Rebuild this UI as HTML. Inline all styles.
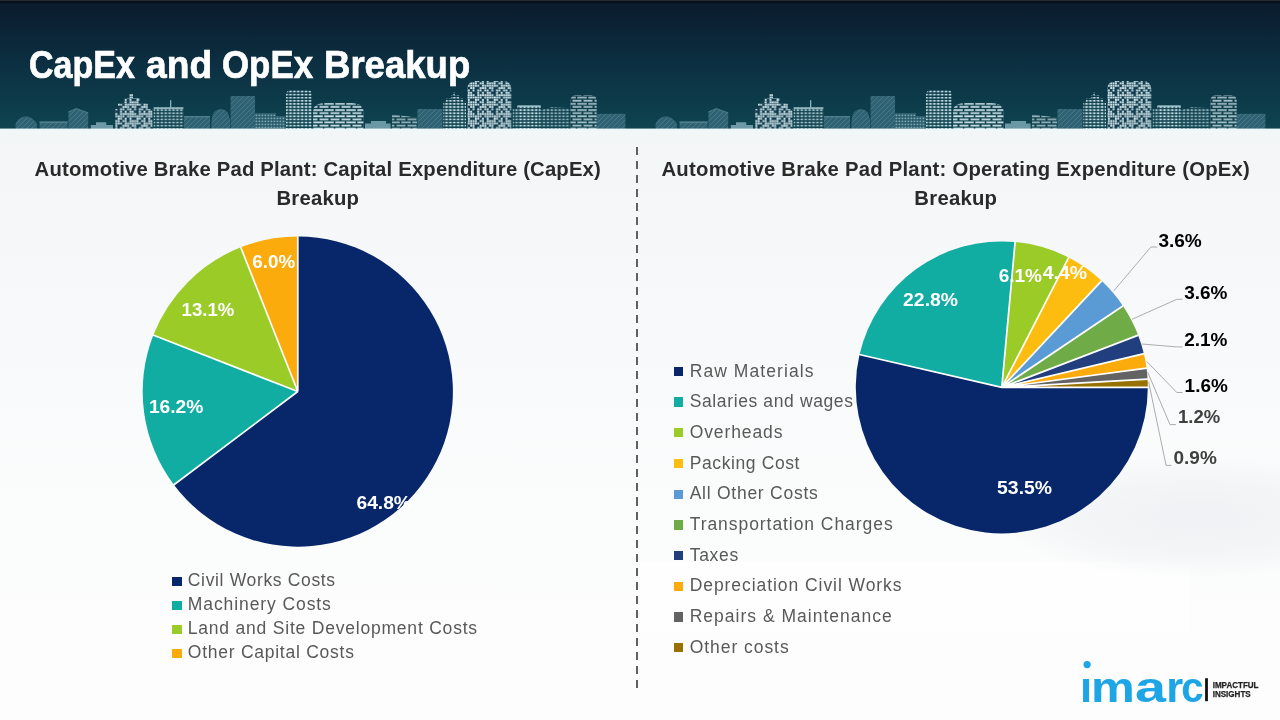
<!DOCTYPE html>
<html lang="en">
<head>
<meta charset="utf-8">
<title>CapEx and OpEx Breakup</title>
<style>
html,body{margin:0;padding:0;}
body{width:1280px;height:720px;overflow:hidden;position:relative;background:#f5f7f8;font-family:"Liberation Sans",Arial,sans-serif;}
.header{position:absolute;left:0;top:0;width:1280px;height:129px;background:linear-gradient(180deg,#0a1a2b 0%,#0b2739 30%,#0c3445 60%,#0e4450 100%);overflow:hidden;}
.header .topline{position:absolute;left:0;top:0;width:100%;height:3px;background:linear-gradient(180deg,#232b34 0,#232b34 1px,#060e19 1px,#07111d 3px);}
.header svg{position:absolute;left:0;top:0;}
.header .edge{position:absolute;left:0;top:128px;width:100%;height:1px;background:rgba(244,247,248,0.42);}
.header h1{position:absolute;left:0;top:0;margin:0;font-size:39px;line-height:44px;font-weight:700;color:#fff;white-space:nowrap;}
.header h1 span{position:absolute;top:42.6px;-webkit-text-stroke:0.7px #fff;display:block;transform-origin:left center;}
.main{position:absolute;left:0;top:128px;width:1280px;height:592px;background:linear-gradient(180deg,#edf8fa 0px,#f3f6f7 5px,#f5f7f8 90px,#f8f9fa 200px,#fbfcfc 400px,#fdfdfd 500px,#fdfdfd 592px) no-repeat 0 1px;}
.charts{position:absolute;left:0;top:0;}
.ctitle{position:absolute;margin:0;font-weight:700;color:#2a2a2a;font-size:20.3px;line-height:29px;text-align:center;white-space:nowrap;}
.ctitle span{display:block;}
.legend{position:absolute;margin:0;padding:0;list-style:none;color:#595959;font-size:17.5px;}
.legend li{position:relative;white-space:nowrap;padding-left:15.6px;}
.legend.lg2 li{padding-left:15.9px;}
.legend li i{position:absolute;left:0;top:50%;margin-top:-3.4px;width:9.5px;height:9.3px;}
.bgp{position:absolute;}
.divider{position:absolute;left:636px;top:19.4px;width:2px;height:540.8px;background:repeating-linear-gradient(180deg,#606060 0,#606060 8px,transparent 8px,transparent 14.02px);}
.logo{position:absolute;left:1083.3px;top:530px;width:190px;height:60px;}
</style>
</head>
<body>
<div class="header">
<div class="topline"></div>
<svg width="1280" height="129" viewBox="0 0 1280 129">
<defs>
<pattern id="pw" width="3.9" height="3.1" patternUnits="userSpaceOnUse"><rect x="0.6" y="0.8" width="2.6" height="1.7" fill="#c4dfe5"/></pattern>
<pattern id="pr" width="18.80" height="18.80" patternUnits="userSpaceOnUse"><rect width="18.80" height="18.80" fill="#113d4f"/><g fill="#d6e9ed"><rect x="0.22" y="0.22" width="1.9" height="1.9"/><rect x="2.57" y="0.22" width="1.9" height="1.9"/><rect x="7.27" y="0.22" width="1.9" height="1.9"/><rect x="9.62" y="0.22" width="1.9" height="1.9"/><rect x="11.97" y="0.22" width="1.9" height="1.9"/><rect x="14.32" y="0.22" width="1.9" height="1.9"/><rect x="16.67" y="0.22" width="1.9" height="1.9"/><rect x="0.22" y="2.57" width="1.9" height="1.9"/><rect x="2.57" y="2.57" width="1.9" height="1.9"/><rect x="4.92" y="2.57" width="1.9" height="1.9"/><rect x="7.27" y="2.57" width="1.9" height="1.9"/><rect x="9.62" y="2.57" width="1.9" height="1.9"/><rect x="14.32" y="2.57" width="1.9" height="1.9"/><rect x="16.67" y="2.57" width="1.9" height="1.9"/><rect x="4.92" y="4.92" width="1.9" height="1.9"/><rect x="7.27" y="4.92" width="1.9" height="1.9"/><rect x="11.97" y="4.92" width="1.9" height="1.9"/><rect x="16.67" y="4.92" width="1.9" height="1.9"/><rect x="0.22" y="7.27" width="1.9" height="1.9"/><rect x="2.57" y="7.27" width="1.9" height="1.9"/><rect x="4.92" y="7.27" width="1.9" height="1.9"/><rect x="9.62" y="7.27" width="1.9" height="1.9"/><rect x="11.97" y="7.27" width="1.9" height="1.9"/><rect x="16.67" y="7.27" width="1.9" height="1.9"/><rect x="0.22" y="9.62" width="1.9" height="1.9"/><rect x="2.57" y="9.62" width="1.9" height="1.9"/><rect x="4.92" y="9.62" width="1.9" height="1.9"/><rect x="7.27" y="9.62" width="1.9" height="1.9"/><rect x="11.97" y="9.62" width="1.9" height="1.9"/><rect x="14.32" y="9.62" width="1.9" height="1.9"/><rect x="16.67" y="9.62" width="1.9" height="1.9"/><rect x="0.22" y="11.97" width="1.9" height="1.9"/><rect x="2.57" y="11.97" width="1.9" height="1.9"/><rect x="9.62" y="11.97" width="1.9" height="1.9"/><rect x="11.97" y="11.97" width="1.9" height="1.9"/><rect x="14.32" y="11.97" width="1.9" height="1.9"/><rect x="2.57" y="14.32" width="1.9" height="1.9"/><rect x="7.27" y="14.32" width="1.9" height="1.9"/><rect x="9.62" y="14.32" width="1.9" height="1.9"/><rect x="14.32" y="14.32" width="1.9" height="1.9"/><rect x="16.67" y="14.32" width="1.9" height="1.9"/><rect x="0.22" y="16.67" width="1.9" height="1.9"/><rect x="7.27" y="16.67" width="1.9" height="1.9"/><rect x="11.97" y="16.67" width="1.9" height="1.9"/><rect x="16.67" y="16.67" width="1.9" height="1.9"/></g></pattern>
<pattern id="ps" width="11" height="6.2" patternUnits="userSpaceOnUse"><rect x="0.5" y="0.7" width="9" height="1.7" fill="#cfe5ea"/><rect x="0" y="3.8" width="3.8" height="1.7" fill="#cfe5ea"/><rect x="5.3" y="3.8" width="5.7" height="1.7" fill="#cfe5ea"/></pattern>
<pattern id="pm" width="3" height="3" patternUnits="userSpaceOnUse"><rect width="3" height="3" fill="#245768"/><rect x="0.5" y="0.6" width="1.8" height="1.6" fill="#7fa8b3"/></pattern>
<pattern id="pd" width="5" height="5" patternUnits="userSpaceOnUse"><rect width="5" height="5" fill="#2f6272"/><path d="M0 5 L5 0 M-1 1 L1 -1 M4 6 L6 4" stroke="#4a7b89" stroke-width="0.9"/></pattern>
<g id="tile">
<path d="M15.6 129 V124 Q18 117.5 25.5 116.3 Q33 117 37 124 V129 Z" fill="url(#pd)"/>
<rect x="39.6" y="121.5" width="28.00" height="7.50" fill="url(#pd)" />
<rect x="39.6" y="121.5" width="28" height="1.6" fill="#4f7f8c"/>
<path d="M68.4 129 V112 L76.2 108.6 L88.2 112.9 V129 Z" fill="url(#pd)"/>
<path d="M68.4 112 L76.2 108.6 L88.2 112.9" fill="none" stroke="#4f7f8c" stroke-width="1"/>
<path d="M90.8 129 V125 H96 V122.2 H106.3 V125 H113 V129 Z" fill="#6d9aa6"/>
<path d="M115 129 V109 H118 V103.6 H124.4 V98 H129.4 V94 H133 V98 H139.4 V103.6 H148 V109 H152.5 V129 Z" fill="url(#pr)"/>
<rect x="153.7" y="107.4" width="29.70" height="21.60" fill="url(#pw)" opacity="0.8"/>
<rect x="153.7" y="107.4" width="29.7" height="1.5" fill="#9fc3cb"/>
<rect x="170" y="100.2" width="1.3" height="7.5" fill="#8fb5be"/>
<rect x="184" y="116" width="26.00" height="13.00" fill="url(#pd)" />
<rect x="184" y="116" width="26" height="1.4" fill="#4f7f8c"/>
<path d="M211.5 129 V120 Q213 109 221 109 Q228.5 109 230 120 V129 Z" fill="url(#pd)"/>
<rect x="230.6" y="96" width="24.40" height="33.00" fill="url(#pd)" />
<rect x="255" y="113" width="21.00" height="16.00" fill="url(#pm)" />
<rect x="276" y="116" width="9.50" height="13.00" fill="url(#pm)" />
<path d="M286 129 V95 Q286 90 291 90 H307 Q312 90 312 95 V129 Z" fill="url(#pw)" />
<path d="M313 129 V111 Q313.5 103 326 103 H351 Q363 103 363.5 111 V129 Z" fill="url(#ps)"/>
<path d="M365 129 V123.5 H371 V121 H386 V123.5 H390.6 V129 Z" fill="#6a98a4"/>
<path d="M392 129 V114.4 L417 117.5 V129 Z" fill="url(#ps)" opacity="0.7"/>
<rect x="417.5" y="109" width="25.00" height="20.00" fill="url(#pd)" />
<path d="M443.2 129 V101.8 H446 V98.4 H451 V95 H453.3 V92 H454.7 V95 H459 V98.4 H463 V101.8 H466 V129 Z" fill="url(#pw)"/>
<path d="M467.2 129 V89.5 Q467.2 81 475.7 81 H502.8 Q511.3 81 511.3 89.5 V129 Z" fill="url(#pr)" />
<rect x="512.8" y="108.7" width="4.20" height="20.30" fill="url(#pw)" opacity="0.8"/>
<rect x="517.4" y="105.4" width="23.20" height="23.60" fill="url(#pw)" />
<rect x="517.4" y="105.4" width="23.2" height="1.4" fill="#a9cbd2"/>
<path d="M541 129 V110 L552 107 L569.5 108.2 V129 Z" fill="url(#pw)" opacity="0.7"/>
<path d="M570.4 129 V101 Q570.4 95 576.4 95 H590.7 Q596.7 95 596.7 101 V129 Z" fill="url(#ps)" opacity="0.8"/>
<rect x="597" y="113.8" width="28.40" height="15.20" fill="url(#pd)" />
</g>
</defs>
<use href="#tile"/>
<use href="#tile" x="640"/>
</svg>
<h1><span style="left:29.3px;transform:scaleX(0.8716)">CapEx</span> <span style="left:145.6px;transform:scaleX(0.9539)">and</span> <span style="left:221.5px;transform:scaleX(0.8937)">OpEx</span> <span style="left:324.2px;transform:scaleX(0.9368)">Breakup</span></h1>
<div class="edge"></div>
</div>
<div class="main">
<div class="bgp" style="left:640px;top:434px;width:550px;height:69px;background:#fefefe"></div>
<div class="bgp" style="left:1000px;top:330px;width:280px;height:120px;background:radial-gradient(ellipse at 70% 50%,rgba(238,241,243,0.9) 0,rgba(238,241,243,0.6) 45%,rgba(238,241,243,0) 72%)"></div>
<div class="divider"></div>
<h2 class="ctitle" style="left:-82.19999999999999px;top:27px;width:800px"><span style="letter-spacing:0.176px">Automotive Brake Pad Plant: Capital Expenditure (CapEx)</span><span style="letter-spacing:0.235px">Breakup</span></h2>
<h2 class="ctitle" style="left:555.8px;top:27px;width:800px"><span style="letter-spacing:0.249px">Automotive Brake Pad Plant: Operating Expenditure (OpEx)</span><span style="letter-spacing:0.249px">Breakup</span></h2>
<svg class="charts" width="1280" height="592" viewBox="0 128 1280 592" font-family="Liberation Sans, Arial, sans-serif">
<g id="pie1">
<path d="M297.80 391.55 L297.80 236.45 A155.1 155.1 0 1 1 173.86 484.79 Z" fill="#08276b"/>
<path d="M297.80 391.55 L173.86 484.79 A155.1 155.1 0 0 1 153.30 335.19 Z" fill="#11aca2"/>
<path d="M297.80 391.55 L153.30 335.19 A155.1 155.1 0 0 1 240.76 247.32 Z" fill="#9acb27"/>
<path d="M297.80 391.55 L240.76 247.32 A155.1 155.1 0 0 1 297.80 236.45 Z" fill="#fcab0d"/>
<path d="M297.80 391.55 L297.80 236.15 M297.80 391.55 L173.62 484.97 M297.80 391.55 L153.02 335.08 M297.80 391.55 L240.65 247.04" stroke="#fff" stroke-width="1.7" fill="none" stroke-linecap="butt"/>
</g>
<g id="pie2">
<path d="M1001.80 387.40 L1147.80 387.40 A146 146 0 1 1 859.53 354.59 Z" fill="#08276b"/>
<path d="M1001.80 387.40 L859.53 354.59 A146 146 0 0 1 1015.11 242.01 Z" fill="#11aca2"/>
<path d="M1001.80 387.40 L1015.11 242.01 A146 146 0 0 1 1068.61 257.59 Z" fill="#9acb27"/>
<path d="M1001.80 387.40 L1068.61 257.59 A146 146 0 0 1 1101.57 280.81 Z" fill="#fdbd10"/>
<path d="M1001.80 387.40 L1101.57 280.81 A146 146 0 0 1 1122.97 305.95 Z" fill="#5b9bd5"/>
<path d="M1001.80 387.40 L1122.97 305.95 A146 146 0 0 1 1138.17 335.26 Z" fill="#6fab46"/>
<path d="M1001.80 387.40 L1138.17 335.26 A146 146 0 0 1 1143.86 353.70 Z" fill="#213f7e"/>
<path d="M1001.80 387.40 L1143.86 353.70 A146 146 0 0 1 1146.53 368.15 Z" fill="#fcab0d"/>
<path d="M1001.80 387.40 L1146.53 368.15 A146 146 0 0 1 1147.57 379.13 Z" fill="#636363"/>
<path d="M1001.80 387.40 L1147.57 379.13 A146 146 0 0 1 1147.80 387.40 Z" fill="#987200"/>
<path d="M1001.80 387.40 L1148.10 387.40 M1001.80 387.40 L859.24 354.52 M1001.80 387.40 L1015.14 241.71 M1001.80 387.40 L1068.75 257.32 M1001.80 387.40 L1101.77 280.59 M1001.80 387.40 L1123.22 305.79 M1001.80 387.40 L1138.45 335.16 M1001.80 387.40 L1144.15 353.63 M1001.80 387.40 L1146.82 368.11 M1001.80 387.40 L1147.87 379.11" stroke="#fff" stroke-width="1.7" fill="none" stroke-linecap="butt"/>
</g>
<g fill="none" stroke="#adadad" stroke-width="1">
<polyline points="1113.6,291.1 1150.9,247.0 1157.3,247.0"/>
<polyline points="1132.1,319.3 1176.8,299.3 1182.6,299.3"/>
<polyline points="1141.8,344.0 1176.8,346.9 1182.6,346.9"/>
<polyline points="1146.7,361.4 1176.8,392.5 1182.6,392.5"/>
<polyline points="1147.6,372.0 1170.0,424.6 1175.8,424.6"/>
<polyline points="1148.6,381.8 1166.1,465.4 1171.5,465.4"/>
</g>
<g font-size="17.6" font-weight="700">
<text x="356.5" y="508.8" fill="#fff" textLength="54.4" lengthAdjust="spacingAndGlyphs">64.8%</text>
<text x="148.9" y="412.9" fill="#fff" textLength="54.4" lengthAdjust="spacingAndGlyphs">16.2%</text>
<text x="181.6" y="316.1" fill="#fff" textLength="52.6" lengthAdjust="spacingAndGlyphs">13.1%</text>
<text x="252.3" y="267.6" fill="#fff" textLength="42.8" lengthAdjust="spacingAndGlyphs">6.0%</text>
<text x="997.1" y="494.2" fill="#fff" textLength="54.9" lengthAdjust="spacingAndGlyphs">53.5%</text>
<text x="903.1" y="305.8" fill="#fff" textLength="54.9" lengthAdjust="spacingAndGlyphs">22.8%</text>
<text x="998.7" y="281.8" fill="#fff" textLength="43.3" lengthAdjust="spacingAndGlyphs">6.1%</text>
<text x="1042.7" y="279.3" fill="#fff" textLength="44.3" lengthAdjust="spacingAndGlyphs">4.4%</text>
<text x="1158.4" y="246.6" fill="#000" textLength="43.4" lengthAdjust="spacingAndGlyphs">3.6%</text>
<text x="1184.2" y="298.7" fill="#000" textLength="43.3" lengthAdjust="spacingAndGlyphs">3.6%</text>
<text x="1184.2" y="346.1" fill="#000" textLength="43.3" lengthAdjust="spacingAndGlyphs">2.1%</text>
<text x="1184.6" y="391.7" fill="#000" textLength="43.2" lengthAdjust="spacingAndGlyphs">1.6%</text>
<text x="1178.0" y="422.8" fill="#404040" textLength="42.1" lengthAdjust="spacingAndGlyphs">1.2%</text>
<text x="1173.5" y="463.6" fill="#404040" textLength="43.3" lengthAdjust="spacingAndGlyphs">0.9%</text>
</g>
</svg>
<ul class="legend lg1" style="left:172.2px;top:441.35px;">
<li style="height:23.9px;line-height:23.9px"><i style="background:#08276b;margin-top:-4.20px"></i><span style="letter-spacing:0.660px">Civil Works Costs</span></li>
<li style="height:23.9px;line-height:23.9px"><i style="background:#11aca2;margin-top:-4.20px"></i><span style="letter-spacing:0.911px">Machinery Costs</span></li>
<li style="height:23.9px;line-height:23.9px"><i style="background:#9acb27;margin-top:-4.20px"></i><span style="letter-spacing:0.791px">Land and Site Development Costs</span></li>
<li style="height:23.9px;line-height:23.9px"><i style="background:#fcab0d;margin-top:-4.20px"></i><span style="letter-spacing:0.747px">Other Capital Costs</span></li>
</ul>
<ul class="legend lg2" style="left:673.8px;top:227.55px;">
<li style="height:30.7px;line-height:30.7px"><i style="background:#08276b;margin-top:-4.10px"></i><span style="letter-spacing:1.071px">Raw Materials</span></li>
<li style="height:30.7px;line-height:30.7px"><i style="background:#11aca2;margin-top:-4.10px"></i><span style="letter-spacing:0.620px">Salaries and wages</span></li>
<li style="height:30.7px;line-height:30.7px"><i style="background:#9acb27;margin-top:-4.10px"></i><span style="letter-spacing:0.899px">Overheads</span></li>
<li style="height:30.7px;line-height:30.7px"><i style="background:#fdbd10;margin-top:-4.10px"></i><span style="letter-spacing:0.608px">Packing Cost</span></li>
<li style="height:30.7px;line-height:30.7px"><i style="background:#5b9bd5;margin-top:-4.10px"></i><span style="letter-spacing:0.741px">All Other Costs</span></li>
<li style="height:30.7px;line-height:30.7px"><i style="background:#6fab46;margin-top:-4.10px"></i><span style="letter-spacing:0.941px">Transportation Charges</span></li>
<li style="height:30.7px;line-height:30.7px"><i style="background:#213f7e;margin-top:-4.10px"></i><span style="letter-spacing:0.716px">Taxes</span></li>
<li style="height:30.7px;line-height:30.7px"><i style="background:#fcab0d;margin-top:-4.10px"></i><span style="letter-spacing:0.938px">Depreciation Civil Works</span></li>
<li style="height:30.7px;line-height:30.7px"><i style="background:#636363;margin-top:-4.10px"></i><span style="letter-spacing:1.009px">Repairs &amp; Maintenance</span></li>
<li style="height:30.7px;line-height:30.7px"><i style="background:#987200;margin-top:-4.10px"></i><span style="letter-spacing:0.947px">Other costs</span></li>
</ul>
<svg class="logo" width="190" height="60" viewBox="1083.3 658 190 60" font-family="Liberation Sans, Arial, sans-serif" font-weight="700">
<text y="701.7" font-size="43" fill="#1ea5e6" lengthAdjust="spacingAndGlyphs"><tspan x="1080.3" textLength="12.2" lengthAdjust="spacingAndGlyphs">i</tspan><tspan x="1091.4" textLength="43.8" lengthAdjust="spacingAndGlyphs">m</tspan><tspan x="1135.4" textLength="31" lengthAdjust="spacingAndGlyphs">a</tspan><tspan x="1166.6" textLength="17" lengthAdjust="spacingAndGlyphs">r</tspan><tspan x="1181.6" textLength="22.4" lengthAdjust="spacingAndGlyphs">c</tspan></text>
<rect x="1081" y="668.4" width="12" height="9.2" fill="#fdfdfd"/>
<circle cx="1087.4" cy="664.6" r="3.6" fill="#1ea5e6"/>
<rect x="1205.4" y="678.2" width="2.8" height="23" fill="#111"/>
<text x="1213" y="688" font-size="8.3" fill="#222" stroke="#222" stroke-width="0.25" textLength="45.8" lengthAdjust="spacingAndGlyphs">IMPACTFUL</text>
<text x="1213" y="696.9" font-size="8.3" fill="#222" stroke="#222" stroke-width="0.25" textLength="38.0" lengthAdjust="spacingAndGlyphs">INSIGHTS</text>
</svg>
</div>
</body>
</html>
